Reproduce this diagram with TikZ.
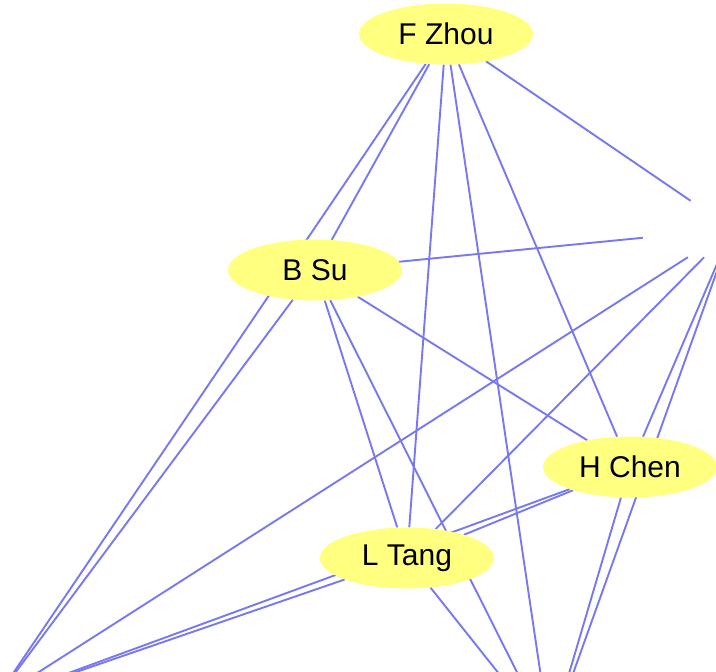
\documentclass[tikz,border=0pt]{standalone}
\usepackage{fontspec}
\setmainfont{Liberation Sans}
\usetikzlibrary{shapes.geometric,backgrounds}
\definecolor{edgeblue}{RGB}{120,120,240}
\definecolor{nodeyellow}{RGB}{255,255,128}
\tikzset{
  person/.style={ellipse, fill=nodeyellow, inner sep=0pt, minimum width=174pt, minimum height=61pt, font=\fontsize{30}{35}\selectfont},
  hidden/.style={rectangle, draw=none, fill=none, inner sep=0pt, minimum width=178pt, minimum height=56pt},
  link/.style={draw=edgeblue, line width=1.9pt}
}
\begin{document}
\begin{tikzpicture}[x=1pt,y=-1pt]
\useasboundingbox (0,0) rectangle (716,672);
\clip (0,0) rectangle (716,672);
\node[person] (fz) at (446,34) {F Zhou};
\node[person] (bs) at (315,270) {B Su};
\node[person] (hc) at (630,467) {H Chen};
\node[person] (lt) at (407,558) {L Tang};
\node[hidden] (rn) at (732,229) {};
\coordinate (bl) at (-5,700);
\coordinate (bm) at (550,738);
\begin{scope}[on background layer]
\draw[link] (fz) -- (bl);
\draw[link] (fz) -- (bs);
\draw[link] (fz) -- (lt);
\draw[link] (fz) -- (bm);
\draw[link] (fz) -- (hc);
\draw[link] (fz) -- (rn);
\draw[link] (bs) -- (bl);
\draw[link] (bs) -- (rn);
\draw[link] (bs) -- (lt);
\draw[link] (bs) -- (bm);
\draw[link] (bs) -- (hc);
\draw[link] (lt) -- (hc);
\draw[link] (lt) -- (bl);
\draw[link] (lt) -- (bm);
\draw[link] (lt) -- (rn);
\draw[link] (hc) -- (bl);
\draw[link] (hc) -- (bm);
\draw[link] (hc) -- (rn);
\draw[link] (rn) -- (bl);
\draw[link] (rn) -- (bm);
\end{scope}
\end{tikzpicture}
\end{document}
